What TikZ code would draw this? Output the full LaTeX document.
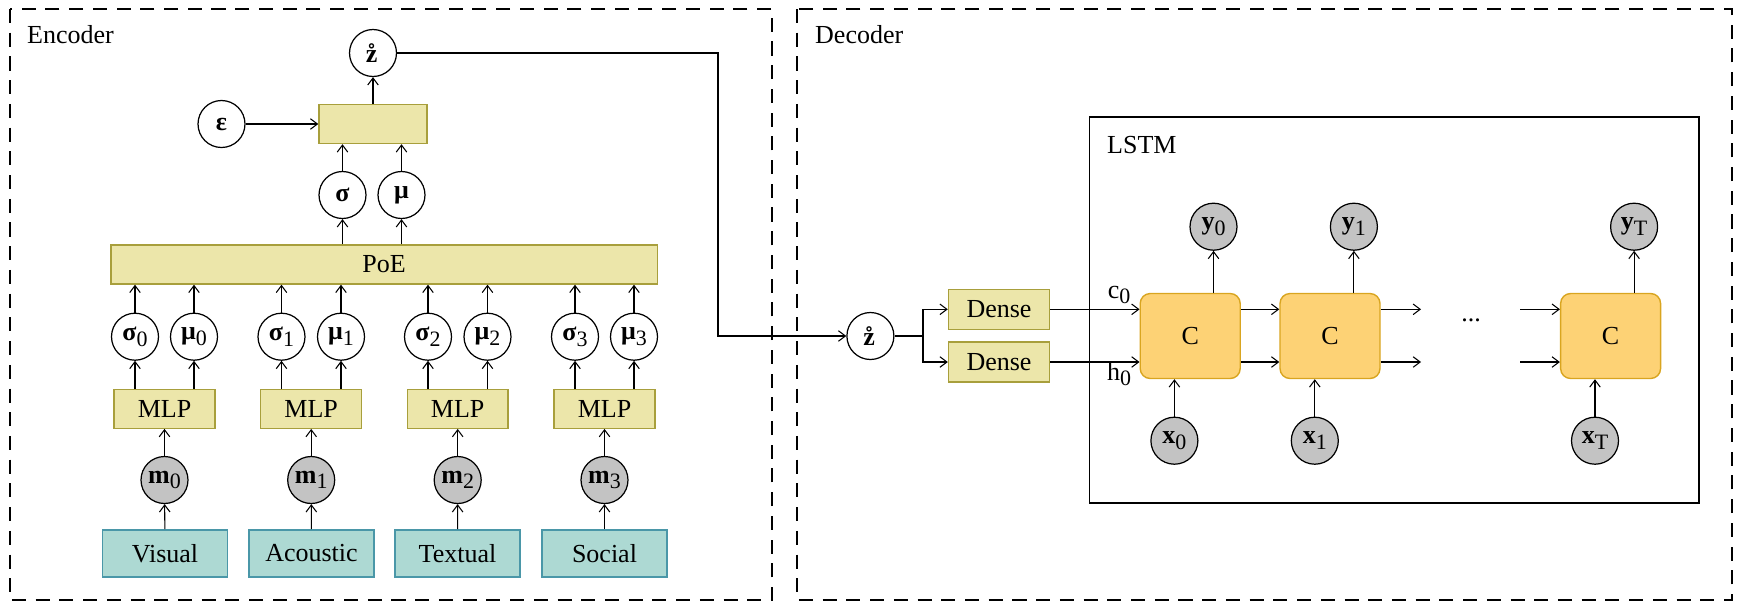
\documentclass[tikz,border=0pt]{standalone}
\usepackage{fontspec}
\setmainfont{Liberation Serif}
\usetikzlibrary{arrows.meta}

\definecolor{boxfill}{HTML}{ECE6AA}
\definecolor{boxline}{HTML}{A89F3C}
\definecolor{srcfill}{HTML}{ADD9D3}
\definecolor{srcline}{HTML}{4A97A8}
\definecolor{cellfill}{HTML}{FDD275}
\definecolor{cellline}{HTML}{D9A520}
\definecolor{obsfill}{HTML}{C3C3C3}

\newcommand{\idx}[1]{\raisebox{-0.45ex}{\fontsize{12.5}{12.5}\selectfont #1}}

\tikzset{
  lat/.style={circle, draw, line width=0.7pt, minimum size=0.94cm, inner sep=0pt},
  obs/.style={lat, fill=obsfill},
  blk/.style={rectangle, draw=boxline, fill=boxfill, line width=0.8pt, inner sep=0pt, minimum height=0.78cm},
  src/.style={rectangle, draw=srcline, fill=srcfill, line width=0.8pt, inner sep=0pt, minimum width=2.5cm, minimum height=0.94cm},
  cell/.style={rectangle, rounded corners=0.2cm, draw=cellline, fill=cellfill, line width=0.8pt, minimum width=2cm, minimum height=1.7cm},
  conn/.style={-{Straight Barb[length=4pt,width=6pt]}, line width=0.6pt},
  grp/.style={dash pattern=on 8pt off 5.5pt, line width=1.1pt},
}

\begin{document}
\begin{tikzpicture}[x=0.02cm, y=-0.02cm, font=\fontsize{14.8}{17}\selectfont]
  \useasboundingbox (0,0) rectangle (1737,603);
  % frames
  \draw[grp] (10,9) rectangle (772,600);
  \draw[grp] (797,9) rectangle (1732,600);
  \draw[line width=1pt] (1089.5,117.3) rectangle (1698.8,502.7);
  \node[anchor=base west] (enc) at (21,43) {Encoder};
  \node[anchor=base west] (dec) at (809,43) {Decoder};
  \node[anchor=base west] (lstm) at (1101,153) {LSTM};

  % encoder
  \node[lat] (zenc) at (373,53) {\textbf{\r{z}}};
  \node[blk, minimum width=2.16cm] (rep) at (373,124) {};
  \node[lat] (eps) at (221.5,124) {\textbf{ε}};
  \node[lat] (sig) at (342.5,195) {\textbf{σ}};
  \node[lat] (mu) at (401.5,195) {\textbf{μ}};
  \node[blk, minimum width=10.93cm] (poe) at (384,264.5) {PoE};

  \node[lat] (s0) at (135,336.7) {\textbf{σ}\idx{0}};
  \node[lat] (u0) at (194,336.7) {\textbf{μ}\idx{0}};
  \node[lat] (s1) at (281.5,336.7) {\textbf{σ}\idx{1}};
  \node[lat] (u1) at (341,336.7) {\textbf{μ}\idx{1}};
  \node[lat] (s2) at (428,336.7) {\textbf{σ}\idx{2}};
  \node[lat] (u2) at (487.5,336.7) {\textbf{μ}\idx{2}};
  \node[lat] (s3) at (575,336.7) {\textbf{σ}\idx{3}};
  \node[lat] (u3) at (634,336.7) {\textbf{μ}\idx{3}};

  \node[blk, minimum width=2.02cm] (mlp0) at (164.5,408.7) {MLP};
  \node[blk, minimum width=2.02cm] (mlp1) at (311.2,408.7) {MLP};
  \node[blk, minimum width=2.02cm] (mlp2) at (457.7,408.7) {MLP};
  \node[blk, minimum width=2.02cm] (mlp3) at (604.5,408.7) {MLP};

  \node[obs] (m0) at (164.5,480) {\textbf{m}\idx{0}};
  \node[obs] (m1) at (311.2,480) {\textbf{m}\idx{1}};
  \node[obs] (m2) at (457.7,480) {\textbf{m}\idx{2}};
  \node[obs] (m3) at (604.5,480) {\textbf{m}\idx{3}};

  \node[src] (vis) at (165,553.3) {Visual};
  \node[src] (aco) at (311.5,553.3) {Acoustic};
  \node[src] (txt) at (457.5,553.3) {Textual};
  \node[src] (soc) at (604.5,553.3) {Social};

  \draw[conn] (eps) -- (rep);
  \draw[conn] (rep) -- (zenc);
  \draw[conn] (sig) -- (sig |- rep.south);
  \draw[conn] (mu) -- (mu |- rep.south);
  \draw[conn] (sig |- poe.north) -- (sig);
  \draw[conn] (mu |- poe.north) -- (mu);

  \draw[conn] (s0) -- (s0 |- poe.south);
  \draw[conn] (u0) -- (u0 |- poe.south);
  \draw[conn] (s1) -- (s1 |- poe.south);
  \draw[conn] (u1) -- (u1 |- poe.south);
  \draw[conn] (s2) -- (s2 |- poe.south);
  \draw[conn] (u2) -- (u2 |- poe.south);
  \draw[conn] (s3) -- (s3 |- poe.south);
  \draw[conn] (u3) -- (u3 |- poe.south);

  \draw[conn] (s0 |- mlp0.north) -- (s0);
  \draw[conn] (u0 |- mlp0.north) -- (u0);
  \draw[conn] (s1 |- mlp1.north) -- (s1);
  \draw[conn] (u1 |- mlp1.north) -- (u1);
  \draw[conn] (s2 |- mlp2.north) -- (s2);
  \draw[conn] (u2 |- mlp2.north) -- (u2);
  \draw[conn] (s3 |- mlp3.north) -- (s3);
  \draw[conn] (u3 |- mlp3.north) -- (u3);

  \draw[conn] (m0) -- (mlp0);
  \draw[conn] (m1) -- (mlp1);
  \draw[conn] (m2) -- (mlp2);
  \draw[conn] (m3) -- (mlp3);
  \draw[conn] (vis) -- (m0);
  \draw[conn] (aco) -- (m1);
  \draw[conn] (txt) -- (m2);
  \draw[conn] (soc) -- (m3);

  % decoder
  \node[lat] (zdec) at (870.4,336) {\textbf{\r{z}}};
  \coordinate (bend) at (718,336);
  \coordinate (fork) at (923,336);
  \node[blk, minimum width=2.02cm, minimum height=0.8cm] (dense1) at (999,309.3) {Dense};
  \node[blk, minimum width=2.02cm, minimum height=0.8cm] (dense2) at (999,362) {Dense};

  \node[cell] (c0) at (1190.2,336) {C};
  \node[cell] (c1) at (1330,336) {C};
  \node[cell] (cT) at (1610.6,336) {C};
  \node (cin) at (1119,295) {c\idx{0}};
  \node (hin) at (1119,374) {h\idx{0}};
  \node[anchor=base] (dots) at (1471,321) {...};
  \coordinate (o1) at (1421,309.3);
  \coordinate (o2) at (1421,362);
  \coordinate (i1) at (1520,309.3);
  \coordinate (i2) at (1520,362);

  \node[obs] (x0) at (1174.4,440.7) {\textbf{x}\idx{0}};
  \node[obs] (x1) at (1314.8,440.7) {\textbf{x}\idx{1}};
  \node[obs] (xT) at (1595,440.7) {\textbf{x}\idx{T}};
  \node[obs] (y0) at (1213.5,226.7) {\textbf{y}\idx{0}};
  \node[obs] (y1) at (1353.9,226.7) {\textbf{y}\idx{1}};
  \node[obs] (yT) at (1634.1,226.7) {\textbf{y}\idx{T}};

  \draw[conn] (zenc) -| (bend) -- (zdec);
  \draw[line width=0.6pt] (zdec) -- (fork);
  \draw[conn] (fork) |- (dense1);
  \draw[conn] (fork) |- (dense2);
  \draw[conn] (dense1) -- (dense1 -| c0.west);
  \draw[conn] (dense2) -- (dense2 -| c0.west);
  \draw[conn] (c0.east |- dense1) -- (c1.west |- dense1);
  \draw[conn] (c0.east |- dense2) -- (c1.west |- dense2);
  \draw[conn] (c1.east |- dense1) -- (o1);
  \draw[conn] (c1.east |- dense2) -- (o2);
  \draw[conn] (i1) -- (cT.west |- dense1);
  \draw[conn] (i2) -- (cT.west |- dense2);

  \draw[conn] (x0) -- (x0 |- c0.south);
  \draw[conn] (x1) -- (x1 |- c1.south);
  \draw[conn] (xT) -- (xT |- cT.south);
  \draw[conn] (y0 |- c0.north) -- (y0);
  \draw[conn] (y1 |- c1.north) -- (y1);
  \draw[conn] (yT |- cT.north) -- (yT);
\end{tikzpicture}
\end{document}
